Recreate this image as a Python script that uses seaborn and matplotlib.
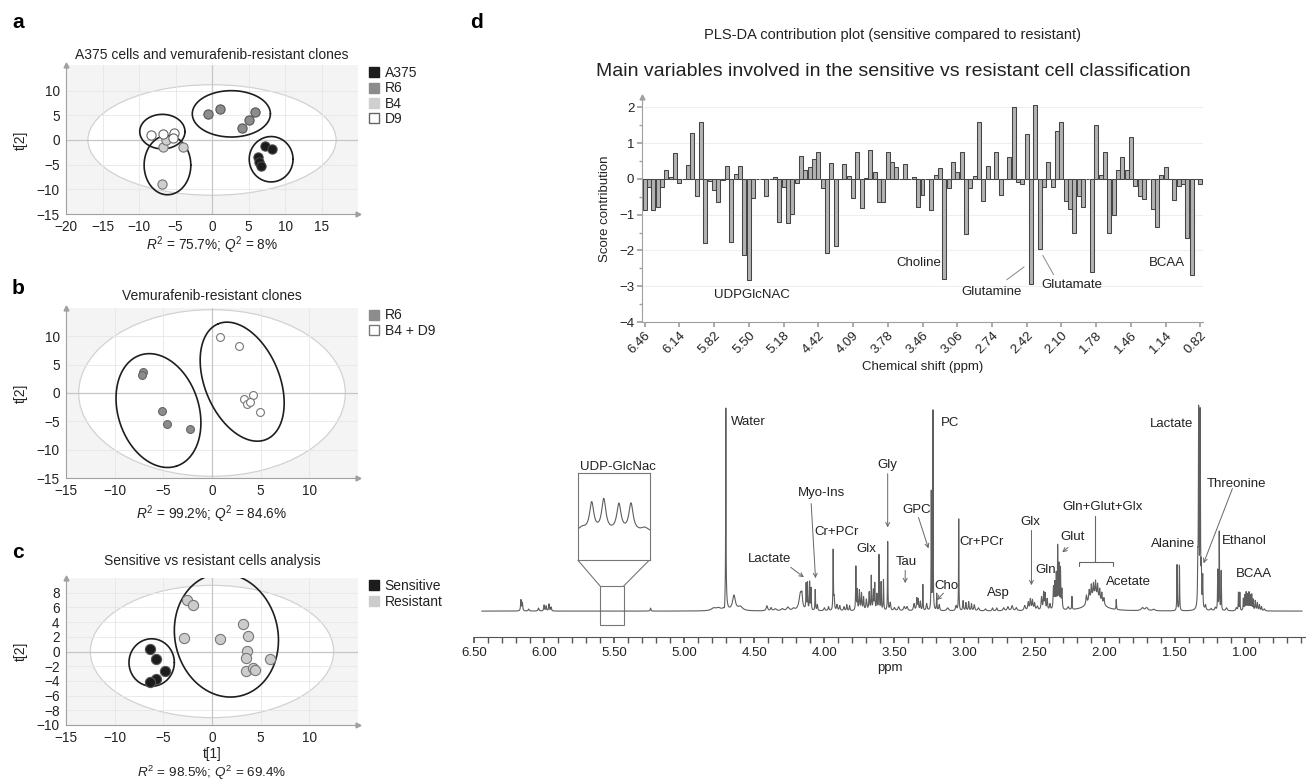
import numpy as np
import pandas as pd
import matplotlib
matplotlib.use("Agg")
import matplotlib.pyplot as plt
import seaborn as sns
from matplotlib.patches import Ellipse, Rectangle
from matplotlib.lines import Line2D
from matplotlib.ticker import MultipleLocator, FormatStrFormatter

# ------------------------------------------------------------------ data
# panel a : scores t[1], t[2]
a_A375_x = [7.3, 8.2, 6.3, 6.5, 6.7]
a_A375_y = [-1.3, -1.8, -3.4, -4.4, -5.2]
a_R6_x = [-0.6, 1.05, 4.1, 5.0, 5.9]
a_R6_y = [5.3, 6.2, 2.4, 4.1, 5.7]
a_B4_x = [-6.7, -4.0, -6.8, -6.3]
a_B4_y = [-1.4, -1.4, -8.9, 0.1]
a_D9_x = [-8.4, -6.7, -5.2, -5.4]
a_D9_y = [1.0, 1.2, 1.5, 0.5]
# group ellipses: centre, half-axis vector u, half-axis vector v (data units)
a_ellipses = [((8.1, -3.9), (3.0, 0.0), (0.0, 4.6)),
              ((2.65, 5.3), (5.35, 0.0), (0.0, 4.7)),
              ((-6.1, -5.1), (3.2, 0.0), (0.0, 6.0)),
              ((-6.8, 1.7), (3.1, 0.0), (0.0, 3.5))]
a_hotelling = (17.0, 11.2)

# panel b
b_R6_x = [-7.1, -7.2, -5.1, -4.6, -2.3]
b_R6_y = [3.7, 3.1, -3.1, -5.5, -6.4]
b_B4D9_x = [0.8, 2.75, 3.3, 4.2, 3.6, 3.9, 4.9]
b_B4D9_y = [9.9, 8.3, -1.0, -0.4, -1.9, -1.65, -3.4]
b_ellipses = [((-5.5, -3.1), (1.85, -9.8), (3.95, 2.2)),
              ((3.1, 2.0), (-2.47, 10.2), (3.54, 2.51))]
b_hotelling = (13.7, 14.7)

# panel c
c_sens_x = [-6.4, -5.8, -4.8, -5.8, -6.4]
c_sens_y = [0.3, -1.0, -2.6, -3.7, -4.2]
c_res_x = [-2.6, -2.0, -2.9, 0.8, 3.2, 3.7, 3.6, 3.5, 6.0, 3.5, 4.25, 4.4]
c_res_y = [7.05, 6.3, 1.8, 1.7, 3.8, 2.1, 0.1, -0.95, -1.0, -2.7, -2.3, -2.45]
c_ellipses = [((-6.2, -1.5), (2.33, 0.0), (0.0, 3.23)),
              ((1.48, 2.2), (-1.38, 8.26), (5.17, 1.52))]
c_hotelling = (12.5, 9.0)

# panel d : PLS-DA contributions (129 spectral bins)
contrib = [
    -0.87, -0.23, -0.87, -0.80, -0.23, 0.26, 0.04, 0.73, -0.12, 0.0,
    0.39, 1.27, -0.49, 1.60, -1.79, -0.05, -0.30, -0.64, -0.04, 0.35,
    -1.77, 0.14, 0.37, -2.12, -2.82, -0.54, 0.0, 0.0, -0.49, 0.0,
    0.04, -1.22, -0.23, -1.24, -0.98, -0.12, 0.64, 0.26, 0.33, 0.55,
    0.76, -0.26, -2.07, 0.44, -1.89, 0.0, 0.42, 0.07, -0.54, 0.76,
    -0.82, 0.02, 0.81, 0.20, -0.66, -0.64, 0.76, 0.46, 0.32, -0.01,
    0.42, 0.0, 0.05, -0.80, -0.45, 0.0, -0.88, 0.10, 0.31, -2.79,
    -0.26, 0.46, 0.20, 0.76, -1.54, -0.26, 0.07, 1.60, -0.61, 0.37,
    0.0, 0.76, -0.45, 0.0, 0.60, 2.00, -0.10, -0.14, 1.25, -2.94,
    2.05, -1.96, -0.24, 0.48, -0.24, 1.35, 1.60, -0.63, -0.85, -1.52,
    -0.49, -0.80, 0.0, -2.59, 1.50, 0.11, 0.74, -1.52, -1.00, 0.26,
    0.60, 0.25, 1.16, -0.20, -0.47, -0.56, 0.0, -0.85, -1.35, 0.11,
    0.34, 0.0, -0.59, -0.20, -0.15, -1.66, -2.70, 0.0, -0.15]
shift_labels = ["6.46", "6.14", "5.82", "5.50", "5.18", "4.42", "4.09", "3.78",
                "3.46", "3.06", "2.74", "2.42", "2.10", "1.78", "1.46", "1.14", "0.82"]

# NMR spectrum peak list: position (ppm), height, half-width (ppm)
peak_ppm = [6.165, 6.155, 6.11, 6.04, 6.00, 5.985, 5.965, 5.95, 5.24,
            4.79, 4.755, 4.712, 4.703, 4.703, 4.645, 4.60, 4.41, 4.38, 4.35, 4.30, 4.26, 4.22,
            4.17, 4.16, 4.13, 4.12, 4.105, 4.095, 4.065, 4.05,
            4.00, 3.97, 3.937, 3.93, 3.91, 3.89, 3.86, 3.84, 3.82,
            3.775, 3.765, 3.75, 3.735, 3.72, 3.70, 3.68, 3.665, 3.65, 3.64, 3.625, 3.61,
            3.595, 3.578, 3.548, 3.53, 3.50, 3.47, 3.43, 3.41,
            3.36, 3.34, 3.33, 3.315, 3.297, 3.27, 3.237, 3.225, 3.198, 3.18,
            3.12, 3.06, 3.041, 3.01, 2.99, 2.97, 2.95, 2.93, 2.90, 2.85, 2.80, 2.77,
            2.72, 2.69, 2.66, 2.63,
            2.57, 2.545, 2.53, 2.515, 2.50, 2.48, 2.45, 2.435, 2.425, 2.41, 2.39,
            2.365, 2.355, 2.345, 2.335, 2.325, 2.315, 2.305, 2.26, 2.233,
            2.07, 2.13, 2.11, 2.095, 2.08, 2.065, 2.05, 2.035, 2.02, 2.005,
            1.917, 1.73, 1.70, 1.65, 1.483, 1.466,
            1.335, 1.329, 1.318, 1.31, 1.30, 1.28, 1.24, 1.21,
            1.193, 1.182, 1.168, 1.13, 1.06, 1.045, 1.035, 1.01, 1.00, 0.99, 0.98,
            0.97, 0.96, 0.95, 0.94, 0.925, 0.91, 0.895, 0.88, 0.86]
peak_height = [11, 8, 2, 3, 6, 5, 7, 4, 3,
               2.5, 2.5, -8, 176, 28, 15, 4, 5, 3, 2, 2, 3.5, 2,
               18, 9, 26, 27, 28, 22, 21, 6,
               3, 4, 60, 12, 6, 5, 4, 6, 5,
               44, 20, 20, 17, 13, 11, 18, 34, 20, 26, 16, 56,
               28, 31, 70, 8, 3, 4, 4, 4,
               7, 12, 11, 9, 26, 7, 118, 200, 17, 6,
               3, 5, 92, 10, 8, 9, 7, 6, 3, 2, 3, 3,
               3, 4, 5, 3,
               5, 8, 11, 10, 7, 4, 13, 17, 16, 11, 6,
               22, 26, 34, 62, 44, 40, 20, 3, 13,
               16, 9, 11, 13, 12, 14, 13, 11, 10, 7,
               10, 3, 3, 1.5, 46, 46,
               36, 195, 195, 36, 32, 5, 2, 3,
               40, 80, 40, 3, 3, 18, 18, 12, 15, 18, 16,
               18, 15, 16, 11, 10, 8, 6, 4, 2]
peak_width = [0.003, 0.003, 0.004, 0.004, 0.003, 0.003, 0.003, 0.003, 0.003,
              0.02, 0.02, 0.004, 0.0012, 0.006, 0.012, 0.02, 0.006, 0.005, 0.01, 0.01, 0.01, 0.01,
              0.012, 0.004, 0.002, 0.002, 0.002, 0.002, 0.002, 0.003,
              0.005, 0.004, 0.0018, 0.003, 0.004, 0.004, 0.004, 0.003, 0.003,
              0.002, 0.002, 0.003, 0.003, 0.003, 0.004, 0.003, 0.002, 0.003, 0.002, 0.003, 0.0018,
              0.002, 0.002, 0.0016, 0.004, 0.006, 0.006, 0.006, 0.006,
              0.005, 0.003, 0.003, 0.003, 0.0018, 0.004, 0.0015, 0.0015, 0.0018, 0.004,
              0.008, 0.005, 0.0015, 0.003, 0.003, 0.003, 0.003, 0.004, 0.006, 0.006, 0.004, 0.004,
              0.006, 0.006, 0.006, 0.006,
              0.006, 0.004, 0.004, 0.004, 0.004, 0.006, 0.004, 0.003, 0.003, 0.003, 0.004,
              0.003, 0.003, 0.002, 0.0018, 0.002, 0.002, 0.003, 0.006, 0.0018,
              0.05, 0.004, 0.004, 0.003, 0.003, 0.003, 0.003, 0.003, 0.003, 0.004,
              0.0018, 0.01, 0.01, 0.01, 0.0018, 0.0018,
              0.002, 0.0022, 0.0022, 0.002, 0.002, 0.004, 0.006, 0.005,
              0.0016, 0.0016, 0.0016, 0.006, 0.005, 0.0018, 0.0018, 0.002, 0.002, 0.002, 0.002,
              0.002, 0.002, 0.002, 0.002, 0.003, 0.003, 0.003, 0.003, 0.005]
# UDP-GlcNAc multiplet (inset)
udp_ppm = [5.568, 5.540, 5.505, 5.477, 5.59, 5.445]
udp_height = [0.36, 0.40, 0.34, 0.35, 0.05, 0.05]
udp_width = [0.006, 0.006, 0.006, 0.006, 0.01, 0.01]

# ------------------------------------------------------------------ style
sns.set_theme(style="white")
plt.rcParams['font.family'] = ['Liberation Sans', 'DejaVu Sans']
plt.rcParams['mathtext.fontset'] = 'custom'
plt.rcParams['mathtext.rm'] = 'Liberation Sans'
plt.rcParams['mathtext.it'] = 'Liberation Sans:italic'
FS = 9.5
TXT = '#222222'

W, H = 1306, 783
fig = plt.figure(figsize=(W / 100, H / 100), dpi=100)


def px_axes(l, t, r, b):
    return fig.add_axes([l / W, 1 - b / H, (r - l) / W, (b - t) / H])


def ftext(x, y, s, **kw):
    kw.setdefault('fontsize', FS)
    kw.setdefault('color', TXT)
    kw.setdefault('ha', 'center')
    kw.setdefault('va', 'center')
    fig.text(x / W, 1 - y / H, s, **kw)


def ellipse_pts(c, u, v):
    t = np.linspace(0, 2 * np.pi, 240)
    x = c[0] + np.cos(t) * u[0] + np.sin(t) * v[0]
    y = c[1] + np.cos(t) * u[1] + np.sin(t) * v[1]
    return x, y


def score_panel(ax, groups, ells, hot, xlim, ylim, xticks, yticks, size):
    ax.set_facecolor('#f4f4f4')
    ax.set_xlim(xlim)
    ax.set_ylim(ylim)
    ax.add_patch(Ellipse((0, 0), 2 * hot[0], 2 * hot[1], facecolor='white',
                         edgecolor='#d2d2d2', lw=0.9, zorder=0.3))
    ax.set_axisbelow(True)
    ax.grid(True, color='#e6e6e6', lw=0.6)
    ax.axhline(0, color='#c6c6c6', lw=0.9, zorder=0.6)
    ax.axvline(0, color='#c6c6c6', lw=0.9, zorder=0.6)
    for c, u, v in ells:
        ex, ey = ellipse_pts(c, u, v)
        ax.plot(ex, ey, color='#1e1e1e', lw=1.2, zorder=3)
    handles = []
    for label, xs, ys, fc, ec in groups:
        sns.scatterplot(x=xs, y=ys, ax=ax, color=fc, edgecolor=ec, s=size,
                        linewidth=0.8, zorder=4, legend=False)
        handles.append(Line2D([0], [0], marker='s', ls='', markerfacecolor=fc,
                              markeredgecolor=ec if fc == 'white' else fc,
                              markersize=7, label=label))
    ax.set_xticks(xticks)
    ax.set_yticks(yticks)
    for s in ['top', 'right']:
        ax.spines[s].set_visible(False)
    for s in ['left', 'bottom']:
        ax.spines[s].set_color('#a0a0a0')
        ax.spines[s].set_linewidth(0.8)
    ax.tick_params(length=3, color='#a0a0a0', labelsize=FS + 0.3, labelcolor=TXT, pad=1.5)
    ax.plot(1, 0, '>', color='#a0a0a0', ms=3.5, transform=ax.transAxes, clip_on=False)
    ax.plot(0, 1, '^', color='#a0a0a0', ms=3.5, transform=ax.transAxes, clip_on=False)
    ax.set_xlabel('')
    ax.set_ylabel('')
    leg = ax.legend(handles=handles, loc='upper left', bbox_to_anchor=(1.015, 1.03),
                    frameon=False, handletextpad=0.3, labelspacing=0.1,
                    borderaxespad=0, handlelength=0.9, fontsize=FS + 0.5)
    for t in leg.get_texts():
        t.set_color(TXT)


# ---------------- panel a
axa = px_axes(66, 65, 358, 214)
score_panel(axa,
            [('A375', a_A375_x, a_A375_y, '#1c1c1c', '#444444'),
             ('R6', a_R6_x, a_R6_y, '#8c8c8c', '#555555'),
             ('B4', a_B4_x, a_B4_y, '#cfcfcf', '#777777'),
             ('D9', a_D9_x, a_D9_y, 'white', '#666666')],
            a_ellipses, a_hotelling, (-20, 20), (-15, 15.2),
            np.arange(-20, 16, 5), np.arange(-15, 11, 5), 44)
ftext(12, 22, 'a', fontsize=15, weight='bold', ha='left', color='black')
ftext(212, 55, 'A375 cells and vemurafenib-resistant clones', fontsize=FS + 0.5)
ftext(21, 140, 't[2]', rotation=90, fontsize=FS + 0.5)
ftext(212, 245, r'$R^2$ = 75.7%; $Q^2$ = 8%', fontsize=FS + 0.3)

# ---------------- panel b
axb = px_axes(66, 308, 358, 478)
score_panel(axb,
            [('R6', b_R6_x, b_R6_y, '#8c8c8c', '#666666'),
             ('B4 + D9', b_B4D9_x, b_B4D9_y, 'white', '#777777')],
            b_ellipses, b_hotelling, (-15, 15), (-15, 15),
            np.arange(-15, 11, 5), np.arange(-15, 11, 5), 32)
ftext(12, 288, 'b', fontsize=15, weight='bold', ha='left', color='black')
ftext(212, 296, 'Vemurafenib-resistant clones', fontsize=FS + 0.5)
ftext(21, 393, 't[2]', rotation=90, fontsize=FS + 0.5)
ftext(212, 514, r'$R^2$ = 99.2%; $Q^2$ = 84.6%', fontsize=FS + 0.3)

# ---------------- panel c
axc = px_axes(66, 578, 358, 725)
score_panel(axc,
            [('Sensitive', c_sens_x, c_sens_y, '#1c1c1c', '#555555'),
             ('Resistant', c_res_x, c_res_y, '#cccccc', '#777777')],
            c_ellipses, c_hotelling, (-15, 15), (-10, 10),
            np.arange(-15, 11, 5), np.arange(-10, 9, 2), 54)
ftext(12, 553, 'c', fontsize=15, weight='bold', ha='left', color='black')
ftext(212, 561, 'Sensitive vs resistant cells analysis', fontsize=FS + 0.5)
ftext(21, 651, 't[2]', rotation=90, fontsize=FS + 0.5)
ftext(212, 754, 't[1]', fontsize=FS + 0.3)
ftext(212, 773, r'$R^2$ = 98.5%; $Q^2$ = 69.4%', fontsize=FS + 0.2)

# ---------------- panel d : contribution bar chart
ftext(470, 22, 'd', fontsize=15, weight='bold', ha='left', color='black')
ftext(893, 35, 'PLS-DA contribution plot (sensitive compared to resistant)', fontsize=10.5)
ftext(893, 72, 'Main variables involved in the sensitive vs resistant cell classification',
      fontsize=14)

axd = px_axes(642, 96.5, 1203, 322)
dfc = pd.DataFrame({'bin': np.arange(len(contrib)), 'score': contrib})
sns.barplot(data=dfc, x='bin', y='score', color='#b2b2b2', edgecolor='#444444',
            linewidth=0.75, width=0.92, saturation=1, errorbar=None, ax=axd, zorder=3)
axd.set_xlim(-0.6, len(contrib) - 0.4)
axd.set_ylim(-4, 2.3)
axd.set_xticks(np.arange(0, len(contrib), 8))
axd.set_xticklabels(shift_labels, rotation=45, ha='right', rotation_mode='anchor')
axd.set_yticks(np.arange(-4, 3, 1))
axd.yaxis.set_minor_locator(MultipleLocator(0.5))
axd.grid(True, axis='y', color='#efefef', lw=0.8, zorder=0)
axd.set_axisbelow(True)
for s in ['top', 'right']:
    axd.spines[s].set_visible(False)
for s in ['left', 'bottom']:
    axd.spines[s].set_color('#a0a0a0')
    axd.spines[s].set_linewidth(0.8)
axd.tick_params(axis='both', which='major', length=3.5, color='#a0a0a0',
                labelsize=FS, labelcolor=TXT, pad=2, left=True, bottom=True)
axd.tick_params(axis='y', which='minor', length=2, color='#a0a0a0', left=True)
axd.plot(0, 1, '^', color='#a0a0a0', ms=3.5, transform=axd.transAxes, clip_on=False)
axd.set_ylabel('Score contribution', fontsize=FS, color=TXT, labelpad=6)
axd.set_xlabel('Chemical shift (ppm)', fontsize=FS, color=TXT, labelpad=3)
axd.text(24.7, -3.24, 'UDPGlcNAC', fontsize=FS, color=TXT, ha='center', va='center')
axd.text(63.2, -2.34, 'Choline', fontsize=FS, color=TXT, ha='center', va='center')
axd.text(79.9, -3.15, 'Glutamine', fontsize=FS, color=TXT, ha='center', va='center')
axd.text(98.5, -2.98, 'Glutamate', fontsize=FS, color=TXT, ha='center', va='center')
axd.text(120.4, -2.35, 'BCAA', fontsize=FS, color=TXT, ha='center', va='center')
axd.plot([83.4, 87.4], [-2.82, -2.46], color='#888888', lw=0.7)
axd.plot([91.7, 94.2], [-2.14, -2.68], color='#888888', lw=0.7)

# ---------------- panel d : 1H NMR spectrum
axs = px_axes(474, 400, 1305, 637)
ppm = np.arange(6.445, 0.59, -0.0004)
pp = np.array(peak_ppm)[:, None]
ph = np.array(peak_height)[:, None]
pw = np.array(peak_width)[:, None]
intensity = (ph / (1 + ((ppm[None, :] - pp) / pw) ** 2)).sum(axis=0)
sns.lineplot(x=ppm, y=intensity, ax=axs, color='#5e5e5e', lw=0.8,
             estimator=None, sort=False)
axs.set_xlim(6.5, 0.57)
axs.set_ylim(-26, 212)
axs.set_yticks([])
for s in ['top', 'right', 'left']:
    axs.spines[s].set_visible(False)
axs.spines['bottom'].set_color('#555555')
axs.spines['bottom'].set_linewidth(0.8)
axs.xaxis.set_major_locator(MultipleLocator(0.5))
axs.xaxis.set_minor_locator(MultipleLocator(0.1))
axs.xaxis.set_major_formatter(FormatStrFormatter('%.2f'))
axs.tick_params(axis='x', which='both', length=4, color='#555555', bottom=True,
                labelsize=FS, labelcolor=TXT, pad=3)
axs.set_xlabel('ppm', fontsize=FS, color=TXT, labelpad=2)
axs.set_ylabel('')

spec_labels = [('Water', 4.54, 190), ('UDP-GlcNac', 5.47, 145), ('Myo-Ins', 4.02, 119),
               ('Lactate', 4.39, 52), ('Cr+PCr', 3.913, 79), ('Glx', 3.698, 62),
               ('Gly', 3.55, 147), ('GPC', 3.338, 102), ('PC', 3.10, 189),
               ('Tau', 3.417, 49), ('Cho', 3.13, 25), ('Cr+PCr', 2.878, 69),
               ('Asp', 2.757, 18), ('Glx', 2.528, 89), ('Glut', 2.228, 74),
               ('Gln', 2.419, 41), ('Gln+Glut+Glx', 2.016, 105), ('Acetate', 1.829, 29),
               ('Alanine', 1.514, 67), ('Lactate', 1.521, 188), ('Threonine', 1.057, 128),
               ('Ethanol', 1.0, 70), ('BCAA', 0.933, 37)]
for s, x, y in spec_labels:
    axs.text(x, y, s, fontsize=FS, color=TXT, ha='center', va='center')

spec_arrows = [((4.063, 33), (4.094, 108)), ((4.146, 34), (4.24, 44)),
               ((3.548, 84), (3.548, 138)), ((3.257, 63), (3.328, 94)),
               ((3.423, 28), (3.423, 41)), ((3.198, 11), (3.15, 18)),
               ((2.522, 26), (2.522, 81)), ((2.302, 59), (2.261, 64)),
               ((1.294, 48), (1.088, 123))]
for tip, tail in spec_arrows:
    axs.annotate('', xy=tip, xytext=tail,
                 arrowprops=dict(arrowstyle='->', color='#666666', lw=0.7,
                                 shrinkA=0, shrinkB=0, mutation_scale=7))

# Gln+Glut+Glx bracket
axs.plot([2.067, 2.067], [96, 49], color='#666666', lw=0.8)
axs.plot([2.185, 2.185, 1.939, 1.939], [45, 49, 49, 45], color='#666666', lw=0.8)

# UDP-GlcNAc zoom box
box_kw = dict(color='#777777', lw=0.8)
axs.plot([5.758, 5.599], [51, 25], **box_kw)
axs.plot([5.25, 5.433], [51, 25], **box_kw)
axs.add_patch(Rectangle((5.599, -14), 5.433 - 5.599, 39, fill=False,
                        edgecolor='#777777', lw=0.8))
axi = axs.inset_axes([0.1255, 0.325, 0.0863, 0.366])
ippm = np.arange(5.599, 5.433, -0.0003)
ip = np.array(udp_ppm)[:, None]
ih = np.array(udp_height)[:, None]
iw = np.array(udp_width)[:, None]
iint = (ih / (1 + ((ippm[None, :] - ip) / iw) ** 2)).sum(axis=0)
sns.lineplot(x=ippm, y=iint, ax=axi, color='#5e5e5e', lw=0.8, estimator=None, sort=False)
axi.set_xlim(5.599, 5.433)
axi.set_ylim(-0.35, 0.75)
axi.set_xticks([])
axi.set_yticks([])
axi.set_xlabel('')
axi.set_ylabel('')
axi.set_facecolor('white')
for s in axi.spines.values():
    s.set_color('#777777')
    s.set_linewidth(0.8)

fig.savefig('out.png', dpi=100, facecolor='white')
